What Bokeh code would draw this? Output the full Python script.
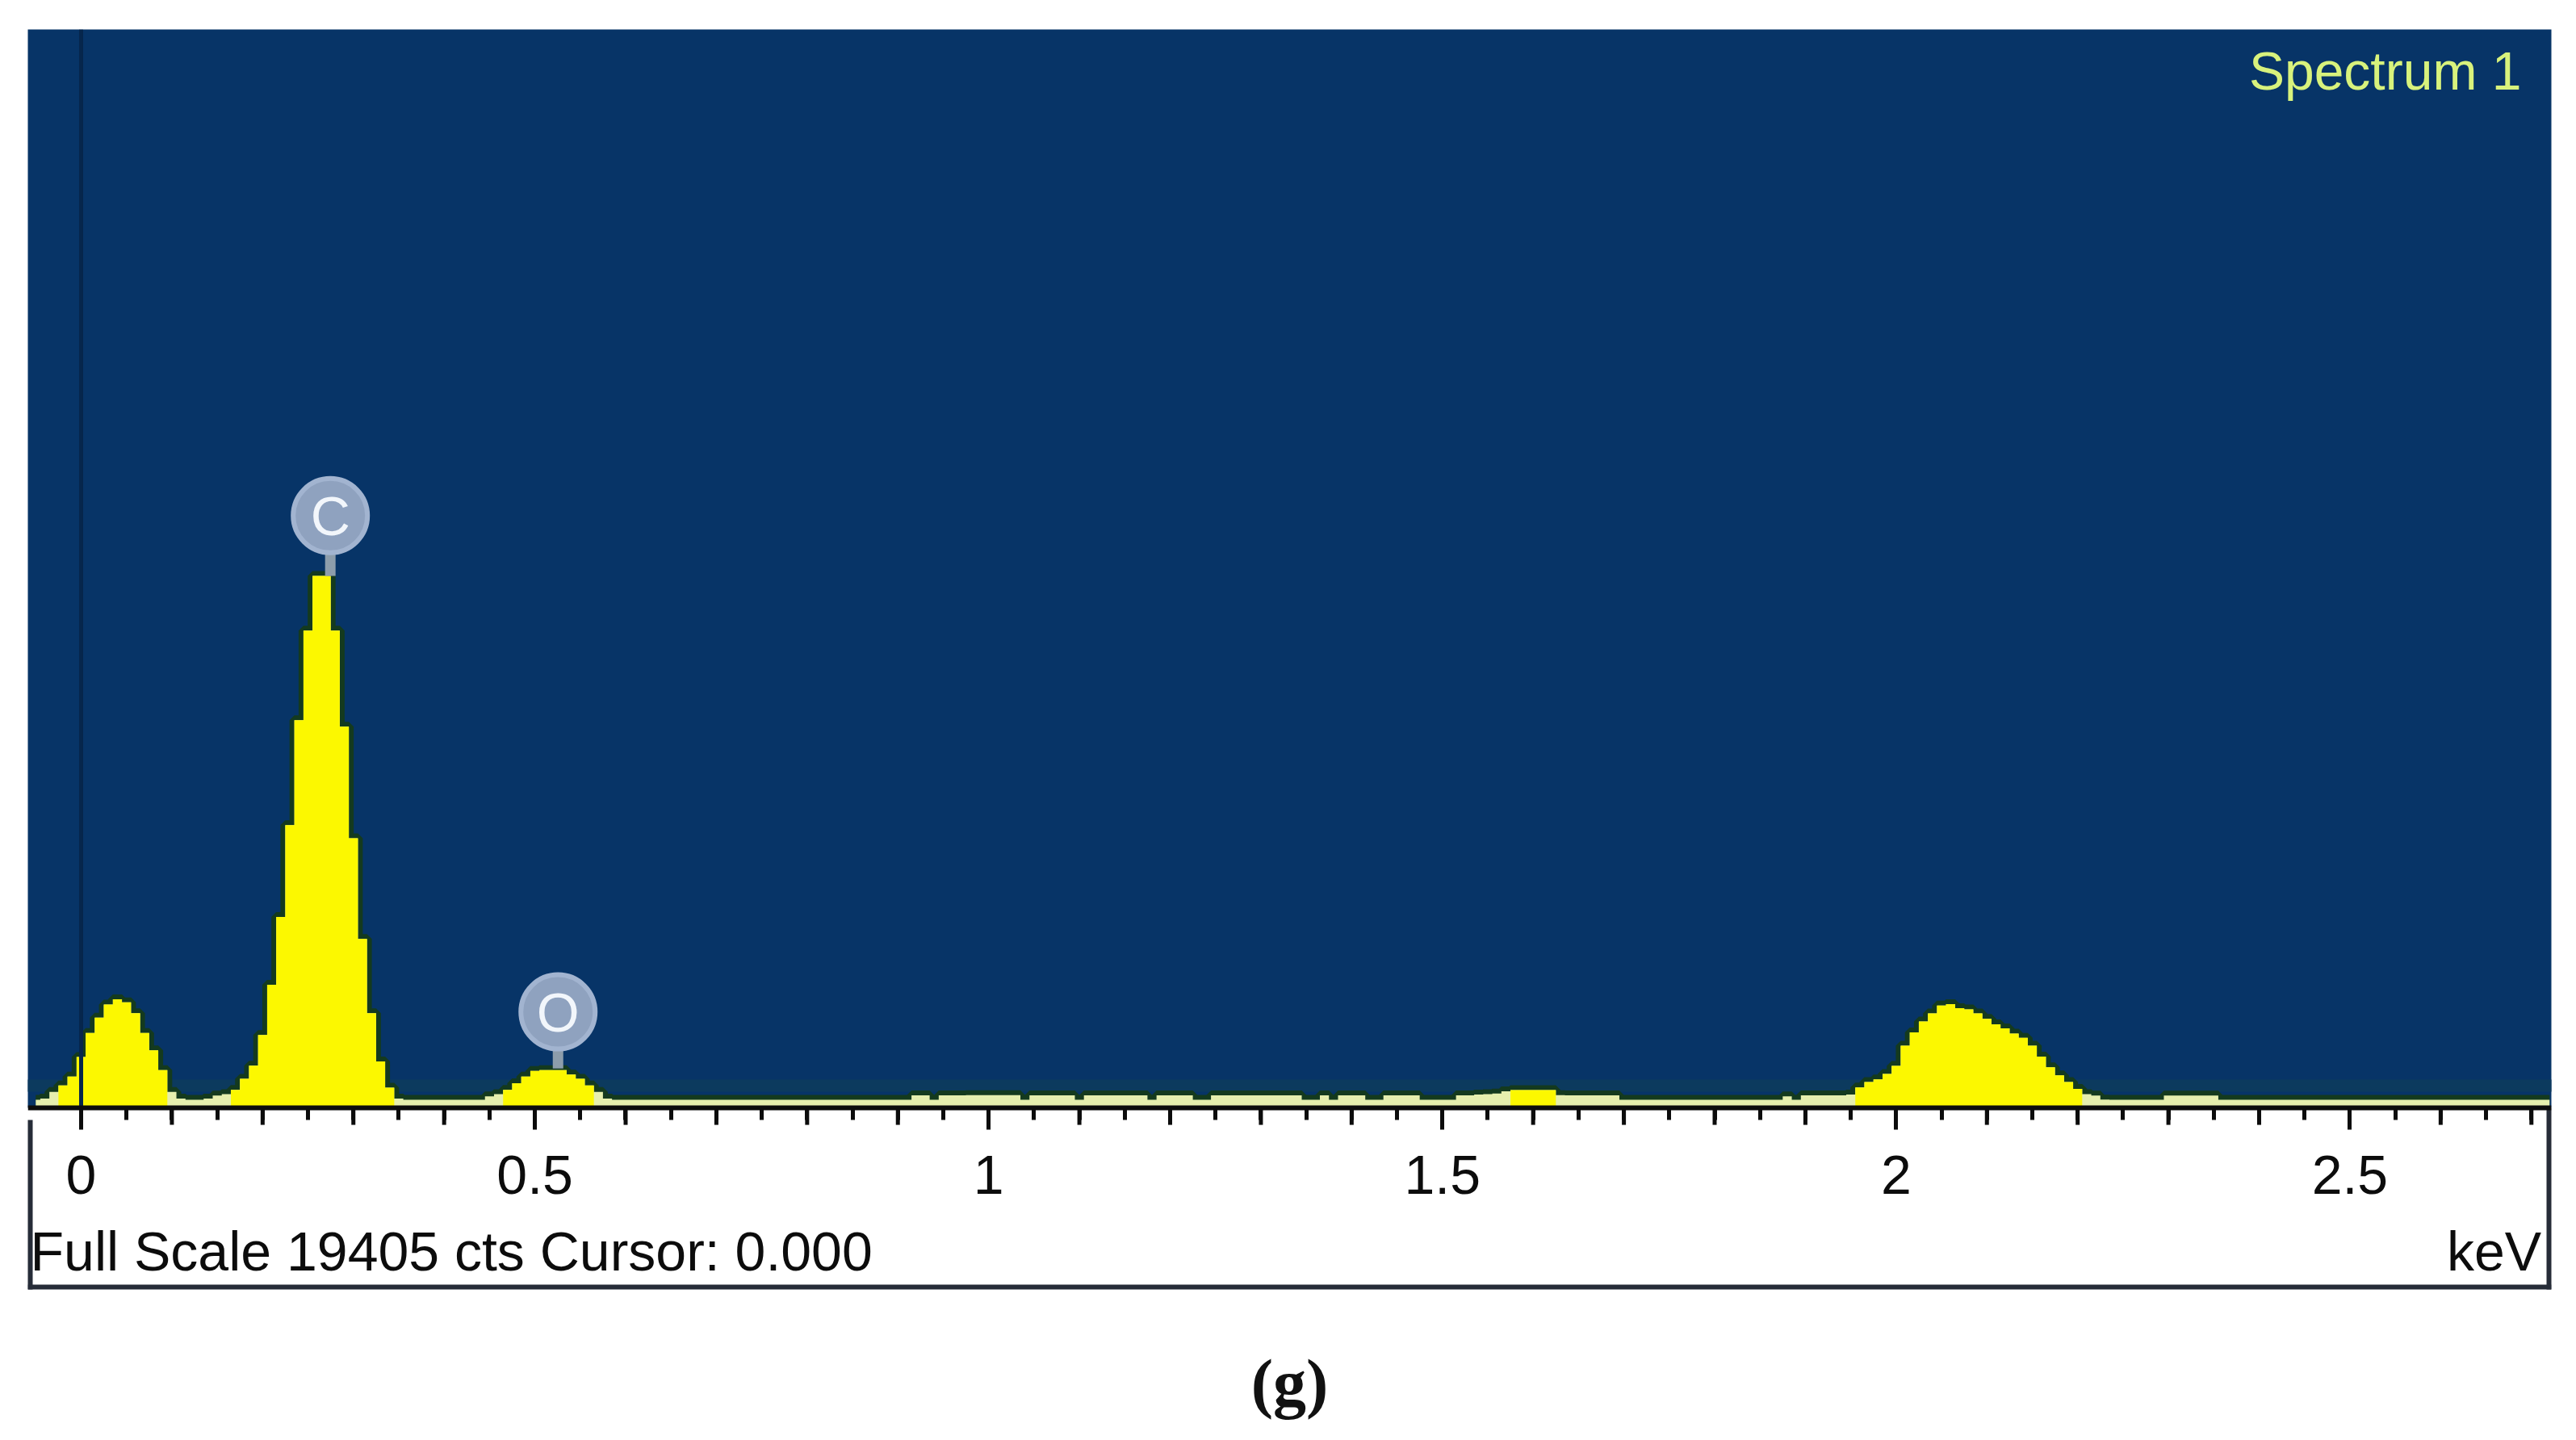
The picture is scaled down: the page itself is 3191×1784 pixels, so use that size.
import numpy as np
from bokeh.embed import file_html
from bokeh.resources import INLINE
from bokeh.plotting import figure
from bokeh.models import Range1d, FixedTicker, Label
from bokeh.core.properties import value

# EDS spectrum, 10 eV channels starting at -0.05 keV
first_channel_kev = -0.05
channel_kev = 0.01
counts = [
    145, 170, 288, 405, 563, 917, 1350, 1625, 1861, 1956,
    1900, 1704, 1350, 1035, 681, 288, 170, 145, 145, 170,
    224, 248, 326, 523, 760, 1311, 2216, 3435, 5088, 6977,
    8590, 9574, 9574, 8590, 6859, 4852, 3042, 1704, 838, 366,
    170, 145, 145, 145, 145, 145, 145, 145, 145, 145,
    209, 248, 326, 445, 563, 665, 680, 680, 680, 602,
    523, 405, 288, 170, 145, 145, 145, 145, 145, 145,
    145, 145, 145, 145, 145, 145, 145, 145, 145, 145,
    145, 145, 145, 145, 145, 145, 145, 145, 145, 145,
    145, 145, 145, 145, 145, 145, 145, 225, 225, 145,
    225, 225, 225, 230, 230, 230, 230, 230, 230, 145,
    225, 225, 225, 225, 225, 145, 225, 225, 225, 225,
    225, 225, 225, 145, 225, 225, 225, 225, 145, 145,
    225, 225, 225, 225, 225, 225, 225, 225, 225, 225,
    145, 145, 225, 145, 225, 225, 225, 145, 145, 225,
    225, 225, 225, 145, 145, 145, 145, 225, 225, 240,
    250, 260, 300, 320, 320, 320, 320, 320, 230, 225,
    225, 225, 225, 225, 225, 145, 145, 145, 145, 145,
    145, 145, 145, 145, 145, 145, 145, 145, 145, 145,
    145, 145, 145, 210, 145, 225, 225, 225, 225, 225,
    240, 368, 465, 513, 610, 755, 1118, 1360, 1554, 1699,
    1844, 1868, 1796, 1772, 1699, 1602, 1505, 1433, 1336, 1263,
    1118, 925, 731, 586, 465, 344, 247, 223, 150, 145,
    145, 145, 145, 145, 145, 223, 223, 223, 223, 223,
    223, 145, 145, 145, 145, 145, 145, 145, 145, 145,
    145, 145, 145, 145, 145, 145, 145, 145, 145, 145,
    145, 145, 145, 145, 145, 145, 145, 145, 145, 145,
    145, 145, 145, 145, 145, 145, 145, 145,
]
bright_from = 310

peak_names = ["C", "O"]
peak_kev = [0.2746, 0.5255]
peak_tops = [9574, 711]
peak_marks = [10658, 1728]

major_ticks = [0, 0.5, 1, 1.5, 2, 2.5]
medium_ticks = [0.1, 0.2, 0.3, 0.4, 0.6, 0.7, 0.8, 0.9, 1.1, 1.2, 1.3, 1.4,
                1.6, 1.7, 1.8, 1.9, 2.1, 2.2, 2.3, 2.4, 2.6, 2.7]
minor_ticks = [0.05, 0.1, 0.15, 0.2, 0.25, 0.3, 0.35, 0.4, 0.45, 0.55, 0.6, 0.65, 0.7,
               0.75, 0.8, 0.85, 0.9, 0.95, 1.05, 1.1, 1.15, 1.2, 1.25, 1.3, 1.35, 1.4,
               1.45, 1.55, 1.6, 1.65, 1.7, 1.75, 1.8, 1.85, 1.9, 1.95, 2.05, 2.1, 2.15,
               2.2, 2.25, 2.3, 2.35, 2.4, 2.45, 2.55, 2.6, 2.65, 2.7]

full_scale = 19405
per_px = 14.52
x_start, x_end = -0.0587, 2.722
y_start = -406 * per_px      # frame runs on below the instrument window, to hold the caption
window_bottom = -225 * per_px

BLUE = "#073467"
YELLOW = "#fcf800"
PALE = "#e6efae"
INK = "#0c0c0c"
EDGE = "#262c38"
FONT = "Liberation Sans"
TEXT_PX = "68px"

x = first_channel_kev + channel_kev * np.arange(len(counts))
y = np.array(counts, dtype=float)
bright = np.where(y >= bright_from, y, 0.0)

p = figure(width=3185, height=1778, output_backend="svg", toolbar_location=None,
           x_range=Range1d(x_start, x_end), y_range=Range1d(y_start, full_scale),
           min_border_left=34, min_border_right=25, min_border_top=36, min_border_bottom=0,
           background_fill_color="white", border_fill_color="white", outline_line_color=None)
p.grid.visible = False
p.yaxis.visible = False

# blue plotting field above the axis (white paper shows below), noisy band above the baseline
p.quad(left=[x_start - 0.1], right=[x_end + 0.1], top=[full_scale + 500], bottom=[0], fill_color=BLUE, line_color=None)
p.quad(left=[x_start - 0.1], right=[x_end + 0.1], top=[35 * per_px], bottom=[20 * per_px], fill_color="#0c3a5e", line_color=None)

p.step(x, y, mode="center", line_color="#143a1e", line_width=12)
p.varea_step(x=x, y1=0, y2=y, step_mode="center", fill_color=PALE)
p.varea_step(x=x, y1=0, y2=bright, step_mode="center", fill_color=YELLOW)

# cursor
p.segment(x0=[0], y0=[0], x1=[0], y1=[full_scale], line_color="#06264c", line_width=5)

# element markers
p.segment(x0=peak_kev, y0=peak_tops, x1=peak_kev, y1=peak_marks, line_color="#8d9dab", line_width=13)
p.scatter(peak_kev, peak_marks, marker="circle", size=92, fill_color="#8fa2bf",
          line_color="#a2b4d0", line_width=6)
p.text(peak_kev, peak_marks, text=peak_names, text_font=value(FONT), text_font_size=TEXT_PX,
       text_color="#f2f6fb", text_align="center", text_baseline="middle")

# axis with long / short ticks
ax = p.xaxis[0]
ax.ticker = FixedTicker(ticks=major_ticks, minor_ticks=minor_ticks)
ax.major_label_overrides = {0: "0", 0.5: "0.5", 1: "1", 1.5: "1.5", 2: "2", 2.5: "2.5"}
ax.fixed_location = 0
ax.axis_line_color = INK
ax.axis_line_width = 6
ax.major_tick_line_color = INK
ax.major_tick_line_width = 5
ax.minor_tick_line_color = INK
ax.minor_tick_line_width = 5
ax.major_tick_in = 0
ax.major_tick_out = 27
ax.minor_tick_in = 0
ax.minor_tick_out = 15
ax.major_label_standoff = 32
ax.major_label_text_font = FONT
ax.major_label_text_font_size = TEXT_PX
ax.major_label_text_color = INK

# middle-length ticks every 0.1 keV
p.segment(x0=medium_ticks, y0=[0] * len(medium_ticks), x1=medium_ticks,
          y1=[-21 * per_px] * len(medium_ticks), line_color=INK, line_width=5)

# frame of the white strip
p.segment(x0=[x_start, x_end], y0=[-15 * per_px, 0], x1=[x_start, x_end], y1=[window_bottom, window_bottom],
          line_color=EDGE, line_width=12)
p.segment(x0=[x_start], y0=[window_bottom + 3 * per_px], x1=[x_end], y1=[window_bottom + 3 * per_px],
          line_color=EDGE, line_width=6)

p.add_layout(Label(x=2.689, y=18655, text="Spectrum 1", text_align="right", text_baseline="alphabetic",
                   text_font=FONT, text_font_size="66px", text_color="#d8f27c"))
p.add_layout(Label(x=-0.056, y=-2573, text="Full Scale 19405 cts Cursor: 0.000", text_align="left",
                   text_baseline="alphabetic", text_font=FONT, text_font_size=TEXT_PX, text_color=INK))
p.add_layout(Label(x=2.711, y=-2573, text="keV", text_align="right", text_baseline="alphabetic",
                   text_font=FONT, text_font_size=TEXT_PX, text_color=INK))

# panel caption, centred under the plot
p.add_layout(Label(x=(x_start + x_end) / 2, y=-341 * per_px, text="(g)", text_align="center",
                   text_baseline="middle", text_font="Liberation Serif", text_font_style="bold",
                   text_font_size="82px", text_color="#111111"))

open("out.html", "w").write(file_html(p, INLINE))
